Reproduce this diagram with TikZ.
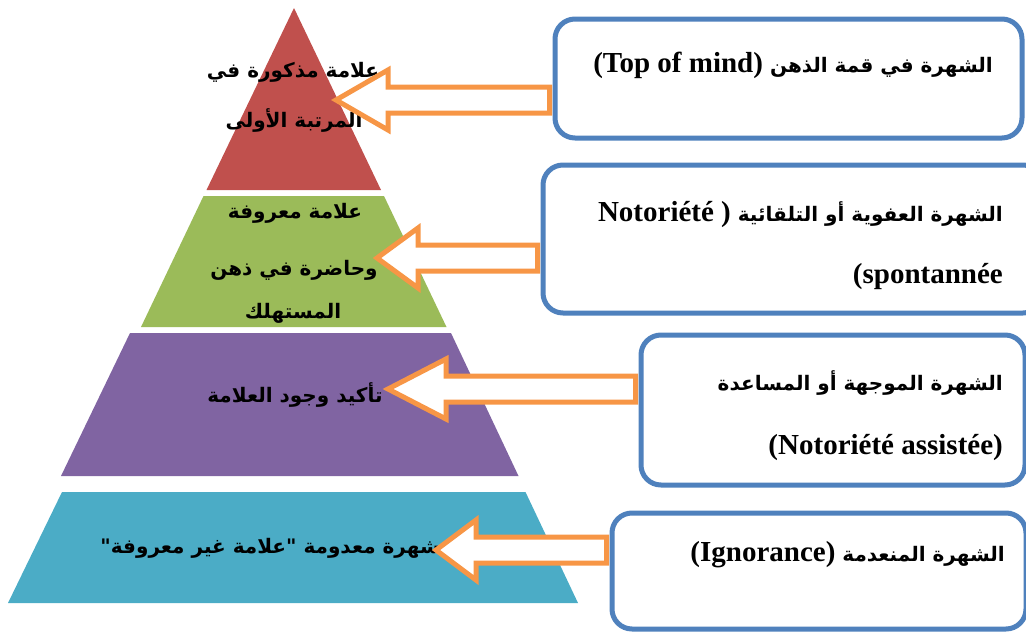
\documentclass[tikz,border=0pt]{standalone}
\usepackage{fontspec}
\setmainfont{Liberation Serif}
\newfontfamily\arabicfont[Script=Arabic]{DejaVu Sans}
\TeXXeTstate=1
\usetikzlibrary{calc}

\definecolor{tierred}{RGB}{192,80,77}
\definecolor{tiergreen}{RGB}{155,187,89}
\definecolor{tierpurple}{RGB}{128,100,162}
\definecolor{tierteal}{RGB}{75,172,198}
\definecolor{boxblue}{RGB}{79,129,189}
\definecolor{arrorange}{RGB}{247,150,70}

\newcommand{\latinpart}[1]{{\rmfamily\fontsize{29}{34}\selectfont #1}}
% block arrow: tail node, tip coordinate, head length
\newcommand{\blockarrow}[3]{%
  \draw[blockarr] let \p1=(#1), \p2=(#2) in
    (\p2) -- (\x2+#3pt,\y2+30pt) -- (\x2+#3pt,\y2+13pt) -- (\x1-3pt,\y2+13pt)
    -- (\x1-3pt,\y2-13pt) -- (\x2+#3pt,\y2-13pt) -- (\x2+#3pt,\y2-30pt) -- cycle;}

\begin{document}
\begin{tikzpicture}[x=1pt,y=-1pt,
    tiertext/.style={font=\arabicfont\bfseries\fontsize{20}{24}\selectfont,inner sep=0pt},
    boxtext/.style={font=\arabicfont\bfseries\fontsize{20}{24}\selectfont,inner sep=0pt,anchor=east},
    box/.style={draw=boxblue,line width=5pt,rounded corners=20pt,fill=white,
      anchor=north west,inner sep=0pt},
    blockarr/.style={draw=arrorange,line width=5pt,fill=white,line join=miter}]

  \useasboundingbox (0,0) rectangle (1026,632);

  % pyramid
  \fill[tierred] (294,8) -- (381,190) -- (206.5,190) -- cycle;
  \fill[tiergreen] (203.5,196) -- (384,196) -- (446.5,327) -- (141,327) -- cycle;
  \fill[tierpurple] (130,333) -- (451,333) -- (518.5,476) -- (61,476) -- cycle;
  \fill[tierteal] (62,492) -- (525.5,492) -- (578,603) -- (8,603) -- cycle;

  \node[tiertext] (p1a) at (293,72) {\beginR علامة مذكورة في\endR};
  \node[tiertext] (p1b) at (294,120) {\beginR المرتبة الأولى\endR};
  \node[tiertext] (p2a) at (295,213) {\beginR علامة معروفة\endR};
  \node[tiertext] (p2b) at (294,270) {\beginR وحاضرة في ذهن\endR};
  \node[tiertext] (p2c) at (293,313) {\beginR المستهلك\endR};
  \node[tiertext] (p3) at (295,395) {\beginR تأكيد وجود العلامة\endR};
  \node[tiertext,anchor=east] (p4) at (440,548)
    {\beginR شهرة معدومة "\kern0pt علامة غير معروفة\kern0pt"\endR};

  % boxes
  \node[box,minimum width=467,minimum height=119] (b1) at (552.5,16.5) {};
  \node[box,minimum width=500,minimum height=148] (b2) at (540.5,162.5) {};
  \node[box,minimum width=384,minimum height=150] (b3) at (638.5,332.5) {};
  \node[box,minimum width=414,minimum height=116] (b4) at (609.5,510.5) {};

  \node[boxtext] (t1) at (993,65)
    {\beginR الشهرة في قمة الذهن \beginL\latinpart{(Top of mind)}\endL\endR};
  \node[boxtext] (t2a) at (1003,215)
    {\beginR الشهرة العفوية أو التلقائية \beginL\latinpart{Notoriété )}\endL\endR};
  \node[boxtext] (t2b) at (1003,277) {\latinpart{(spontannée}};
  \node[boxtext] (t3a) at (1003,383) {\beginR الشهرة الموجهة أو المساعدة\endR};
  \node[boxtext] (t3b) at (1003,448) {\latinpart{(Notoriété assistée)}};
  \node[boxtext] (t4) at (1005,555)
    {\beginR الشهرة المنعدمة \beginL\latinpart{(Ignorance)}\endL\endR};

  % arrows
  \coordinate (tip1) at (336,100);
  \coordinate (tip2) at (377,258);
  \coordinate (tip3) at (388,389);
  \coordinate (tip4) at (436,550);
  \blockarrow{b1.west}{tip1}{52}
  \blockarrow{b2.west}{tip2}{41}
  \blockarrow{b3.west}{tip3}{58}
  \blockarrow{b4.west}{tip4}{40}
\end{tikzpicture}
\end{document}
